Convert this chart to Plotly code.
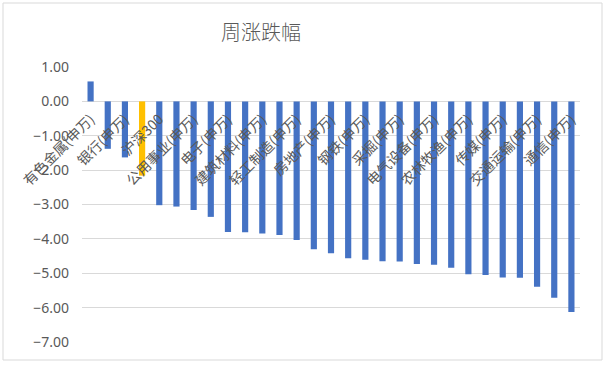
import plotly.graph_objects as go

categories = [
    "有色金属(申万)", "化工(申万)", "银行(申万)", "食品饮料(申万)", "沪深300",
    "家用电器(申万)", "公用事业(申万)", "医药生物(申万)", "电子(申万)", "纺织服装(申万)",
    "建筑材料(申万)", "商业贸易(申万)", "轻工制造(申万)", "休闲服务(申万)", "房地产(申万)",
    "综合(申万)", "钢铁(申万)", "建筑装饰(申万)", "采掘(申万)", "国防军工(申万)",
    "电气设备(申万)", "计算机(申万)", "农林牧渔(申万)", "非银金融(申万)", "传媒(申万)",
    "汽车(申万)", "交通运输(申万)", "机械设备(申万)", "通信(申万)",
]
values = [
    0.58, -1.38, -1.63, -2.16, -3.02, -3.06, -3.16, -3.36, -3.80, -3.81,
    -3.84, -3.89, -4.03, -4.30, -4.42, -4.56, -4.61, -4.65, -4.66, -4.73,
    -4.75, -4.84, -5.03, -5.05, -5.12, -5.13, -5.39, -5.71, -6.13,
]
highlight_index = 3
shown_labels = categories[::2]
y_ticks = [1, 0, -1, -2, -3, -4, -5, -6, -7]

BLUE = "#4472C4"
YELLOW = "#FFC000"
GRID = "#D9D9D9"
TEXT = "#595959"

colors = [YELLOW if i == highlight_index else BLUE for i in range(len(values))]

W, H = 607, 365
L, R, T, B = 82, 27, 67, 23

fig = go.Figure(go.Bar(x=categories, y=values, marker_color=colors, marker_line_width=0))

pw = W - L - R
ph = H - T - B
fig.add_shape(type="rect", xref="paper", yref="paper",
              x0=(3 - L) / pw, x1=(602 - L) / pw,
              y0=(H - B - 360) / ph, y1=(H - B - 3) / ph,
              line=dict(color=GRID, width=1), layer="below")

fig.update_layout(
    width=W, height=H,
    margin=dict(l=L, r=R, t=T, b=B),
    paper_bgcolor="white", plot_bgcolor="white",
    bargap=0.64,
    showlegend=False,
    title=dict(text="周涨跌幅", x=261 / W, xanchor="center", y=1 - 33 / H, yanchor="middle",
               font=dict(family="Noto Sans CJK SC", size=20, color=TEXT, weight=300)),
    font=dict(family="Noto Sans CJK SC", color=TEXT),
    xaxis=dict(
        anchor="free", position=7 / 8,
        tickmode="array", tickvals=shown_labels, ticktext=shown_labels,
        tickangle=-45, tickfont=dict(size=14, color=TEXT),
        showgrid=False, showline=False, ticks="", automargin=False,
        ticklabelstandoff=6,
    ),
    yaxis=dict(
        range=[-7, 1], tickvals=y_ticks, tickformat=".2f",
        tickfont=dict(size=14, color=TEXT, family="Noto Sans"),
        gridcolor=GRID, gridwidth=1, zeroline=True, zerolinecolor=GRID, zerolinewidth=1,
        showline=False, ticks="", ticklabelstandoff=12, automargin=False,
    ),
)

fig.write_html("out.html")
